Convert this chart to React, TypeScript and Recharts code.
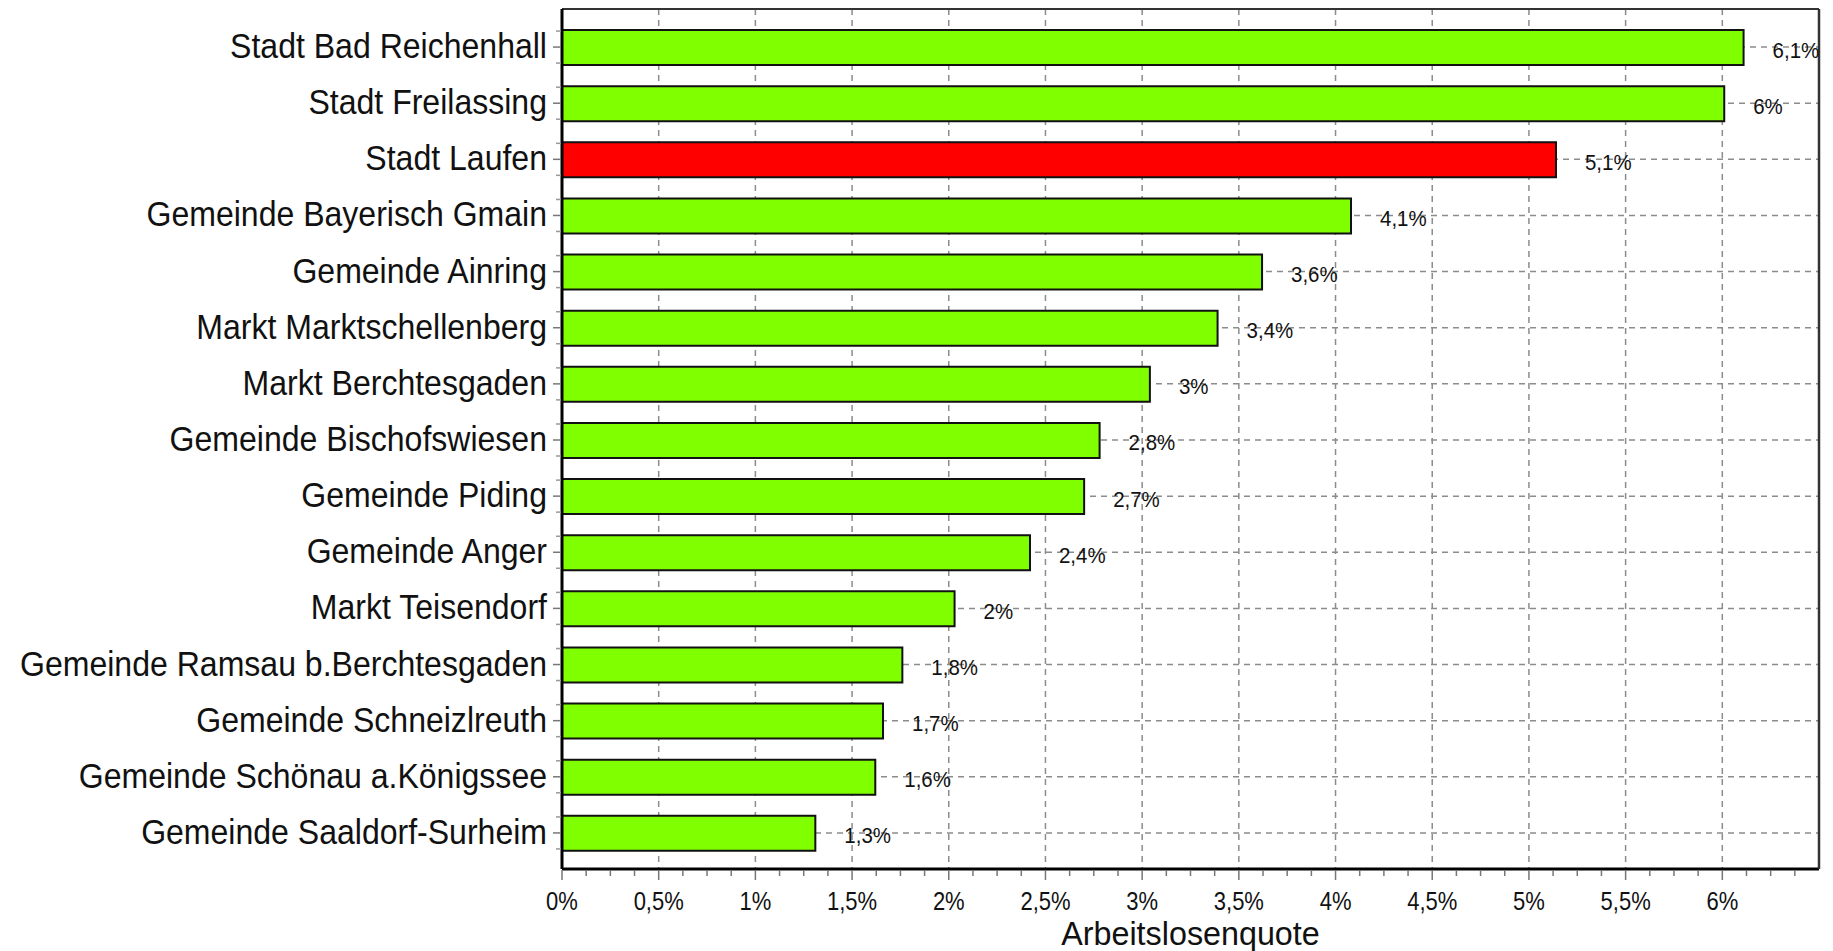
import React from 'react';
import { BarChart, Bar, XAxis, YAxis, CartesianGrid, Cell, LabelList, Label } from 'recharts';

const categories = [
  'Stadt Bad Reichenhall',
  'Stadt Freilassing',
  'Stadt Laufen',
  'Gemeinde Bayerisch Gmain',
  'Gemeinde Ainring',
  'Markt Marktschellenberg',
  'Markt Berchtesgaden',
  'Gemeinde Bischofswiesen',
  'Gemeinde Piding',
  'Gemeinde Anger',
  'Markt Teisendorf',
  'Gemeinde Ramsau b.Berchtesgaden',
  'Gemeinde Schneizlreuth',
  'Gemeinde Schönau a.Königssee',
  'Gemeinde Saaldorf-Surheim',
];

const quote = [6.11, 6.01, 5.14, 4.08, 3.62, 3.39, 3.04, 2.78, 2.7, 2.42, 2.03, 1.76, 1.66, 1.62, 1.31];

const highlighted = 'Stadt Laufen';

const majorTicks = [0, 0.5, 1, 1.5, 2, 2.5, 3, 3.5, 4, 4.5, 5, 5.5, 6];
const allTicks = [
  0, 0.125, 0.25, 0.375, 0.5, 0.625, 0.75, 0.875, 1, 1.125, 1.25, 1.375, 1.5, 1.625, 1.75, 1.875,
  2, 2.125, 2.25, 2.375, 2.5, 2.625, 2.75, 2.875, 3, 3.125, 3.25, 3.375, 3.5, 3.625, 3.75, 3.875,
  4, 4.125, 4.25, 4.375, 4.5, 4.625, 4.75, 4.875, 5, 5.125, 5.25, 5.375, 5.5, 5.625, 5.75, 5.875,
  6, 6.125, 6.25, 6.375,
];
const xMax = 6.5;

const axisTitle = 'Arbeitslosenquote';

const data = categories.map((name, i) => ({ name, value: quote[i] }));

const FONT = '"Liberation Sans", Arial, Helvetica, sans-serif';
const GREEN = '#80ff00';
const RED = '#ff0000';

const fmt = (v: number) => v.toFixed(1).replace(/\.0$/, '').replace('.', ',') + '%';

const CatTick = (props: any) => {
  const { x, y, payload } = props;
  return (
    <g>
      <text
        transform={`translate(${x - 15},${y + 11}) scale(0.89,1)`}
        textAnchor="end"
        fontSize={36}
        fontFamily={FONT}
        fill="#111"
      >
        {payload.value}
      </text>
      <line x1={x - 9} x2={x - 1} y1={y} y2={y} stroke="#777" strokeWidth={1.5} />
      <line x1={x - 6} x2={x - 1} y1={y - 16} y2={y - 16} stroke="#999" strokeWidth={1.5} />
      <line x1={x - 6} x2={x - 1} y1={y + 16} y2={y + 16} stroke="#999" strokeWidth={1.5} />
    </g>
  );
};

const XTick = (props: any) => {
  const { x, y, payload } = props;
  const v = payload.value as number;
  const major = Math.abs(v * 2 - Math.round(v * 2)) < 1e-6;
  return (
    <g>
      <line x1={x} x2={x} y1={y + 1} y2={y + (major ? 11 : 7)} stroke="#777" strokeWidth={1.5} />
      {major && (
        <text
          transform={`translate(${x},${y + 41}) scale(0.88,1)`}
          textAnchor="middle"
          fontSize={25}
          fontFamily={FONT}
          fill="#111"
        >
          {fmt(v)}
        </text>
      )}
    </g>
  );
};

const ValueLabel = (props: any) => {
  const vb = props.viewBox || {};
  const x = props.x ?? vb.x;
  const y = props.y ?? vb.y;
  const width = props.width ?? vb.width;
  const height = props.height ?? vb.height;
  const value = props.value;
  return (
    <text
      transform={`translate(${x + width + 29},${y + height / 2 + 10}) scale(0.93,1)`}
      fontSize={22}
      fontFamily={FONT}
      fill="#111"
    >
      {fmt(Number(value))}
    </text>
  );
};

const TitleLabel = (props: any) => {
  const vb = props.viewBox || {};
  const cx = vb.x + vb.width / 2;
  return (
    <text
      transform={`translate(${cx},${vb.y + 76}) scale(0.95,1)`}
      textAnchor="middle"
      fontSize={34}
      fontFamily={FONT}
      fill="#111"
    >
      {axisTitle}
    </text>
  );
};

const verticalGen = (args: any) => {
  const xAxis = args?.xAxis;
  const offset = args?.offset;
  if (xAxis && typeof xAxis.scale === 'function') {
    return majorTicks.map((v) => xAxis.scale(v));
  }
  return majorTicks.map((v) => offset.left + (v / xMax) * offset.width);
};

export default function App() {
  return (
    <div style={{ position: 'absolute', left: 0, top: 0, width: 1833, height: 951, background: '#fff' }}>
      <BarChart
        width={1833}
        height={951}
        data={data}
        layout="vertical"
        margin={{ top: 8, right: 13, bottom: 0, left: 0 }}
        barSize={35}
      >
        <CartesianGrid
          xAxisId="bottom"
          yAxisId="left"
          stroke="#8c8c8c"
          strokeWidth={1.5}
          strokeDasharray="6 5"
          verticalCoordinatesGenerator={verticalGen}
        />
        <XAxis
          xAxisId="top"
          orientation="top"
          type="number"
          domain={[0, xMax]}
          ticks={majorTicks}
          height={1}
          tick={false}
          tickLine={false}
          axisLine={{ stroke: '#333', strokeWidth: 2 }}
          allowDataOverflow
        />
        <XAxis
          xAxisId="bottom"
          orientation="bottom"
          type="number"
          domain={[0, xMax]}
          ticks={allTicks}
          interval={0}
          height={82}
          tickSize={0}
          tickMargin={0}
          tickLine={false}
          tick={<XTick />}
          axisLine={{ stroke: '#000', strokeWidth: 3 }}
          allowDataOverflow
        >
          <Label content={<TitleLabel />} position="bottom" />
        </XAxis>
        <YAxis
          yAxisId="left"
          type="category"
          dataKey="name"
          width={562}
          padding={{ top: 10, bottom: 8 }}
          tickSize={0}
          tickMargin={0}
          tickLine={false}
          interval={0}
          tick={<CatTick />}
          axisLine={{ stroke: '#000', strokeWidth: 3 }}
        />
        <YAxis
          yAxisId="right"
          orientation="right"
          type="category"
          dataKey="name"
          width={1}
          tick={false}
          tickLine={false}
          axisLine={{ stroke: '#333', strokeWidth: 2.5 }}
        />
        <Bar
          dataKey="value"
          xAxisId="bottom"
          yAxisId="left"
          stroke="#111"
          strokeWidth={2}
          isAnimationActive={false}
        >
          {data.map((d) => (
            <Cell key={d.name} fill={d.name === highlighted ? RED : GREEN} />
          ))}
          <LabelList dataKey="value" content={<ValueLabel />} />
        </Bar>
      </BarChart>
    </div>
  );
}
